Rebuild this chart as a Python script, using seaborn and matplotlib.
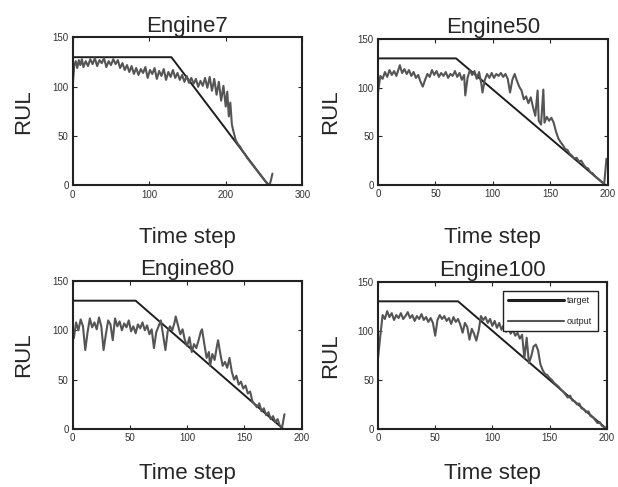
import matplotlib
matplotlib.use("Agg")
import matplotlib.pyplot as plt
import seaborn as sns
import pandas as pd

# ---------------- data ----------------
titles = ["Engine7", "Engine50", "Engine80", "Engine100"]
x_limits = [300, 200, 200, 200]
x_ticks = [[0, 100, 200, 300], [0, 50, 100, 150, 200], [0, 50, 100, 150, 200], [0, 50, 100, 150, 200]]
y_ticks = [0, 50, 100, 150]

# piecewise target RUL (break points)
target7_t = [0, 129, 256]
target7_v = [130, 130, 0]
target50_t = [0, 68, 198]
target50_v = [130, 130, 0]
target80_t = [0, 55, 184]
target80_v = [130, 130, 0]
target100_t = [0, 70, 200]
target100_v = [130, 130, 0]

# network output
out7_t = [0, 2, 4, 6, 8, 10, 12, 14, 17, 20, 23, 26, 29, 32, 35, 38, 41, 44, 47, 50, 53, 56, 59, 62, 65, 68,
          71, 74, 77, 80, 83, 86, 89, 92, 95, 98, 101, 104, 107, 110, 113, 116, 119, 122, 125, 128, 131, 134,
          137, 140, 143, 146, 149, 152, 155, 158, 161, 164, 167, 170, 173, 176, 179, 182, 185, 188, 191, 194,
          197, 200, 202, 204, 206, 208, 210, 213, 216, 219, 222, 225, 228, 231, 234, 237, 240, 243, 246, 249,
          252, 255, 257, 259, 261]
out7_v = [101, 121, 126, 119, 127, 122, 128, 120, 126, 121, 128, 123, 129, 121, 127, 124, 129, 120, 126, 122,
          128, 123, 127, 119, 124, 117, 122, 115, 121, 113, 119, 112, 118, 114, 120, 109, 117, 113, 119, 108,
          116, 111, 118, 107, 115, 110, 117, 109, 114, 107, 112, 105, 111, 104, 109, 103, 108, 100, 106, 101,
          109, 99, 110, 96, 108, 92, 105, 86, 101, 80, 95, 70, 84, 62, 55, 46, 42, 39, 35, 32, 28, 25, 22, 19,
          16, 13, 10, 7, 4, 2, 0, 5, 12]

out50_t = [0, 2, 4, 6, 8, 10, 12, 14, 16, 19, 21, 23, 25, 27, 29, 31, 33, 35, 37, 39, 41, 43, 45, 47, 49, 51,
           53, 55, 57, 59, 61, 63, 65, 67, 69, 71, 73, 75, 76, 78, 80, 82, 84, 86, 88, 90, 91, 93, 95, 97, 99,
           101, 103, 105, 107, 109, 111, 113, 115, 117, 119, 121, 123, 125, 127, 129, 131, 133, 135, 137, 139,
           140, 142, 144, 145, 147, 149, 151, 153, 155, 157, 159, 161, 163, 165, 167, 169, 171, 173, 175, 177,
           179, 181, 183, 185, 187, 189, 191, 193, 195, 197, 199]
out50_v = [95, 112, 109, 116, 111, 118, 113, 117, 112, 123, 115, 119, 114, 118, 112, 116, 110, 113, 106, 101,
           108, 114, 111, 118, 113, 117, 111, 115, 112, 116, 110, 114, 112, 117, 111, 115, 108, 113, 92, 110,
           118, 113, 117, 109, 116, 104, 95, 108, 114, 110, 115, 110, 114, 112, 115, 111, 114, 109, 95, 108,
           114, 107, 101, 97, 88, 91, 84, 90, 80, 71, 97, 66, 62, 98, 64, 70, 66, 69, 64, 55, 48, 44, 41, 37,
           36, 32, 30, 27, 28, 24, 25, 21, 18, 17, 13, 12, 9, 7, 5, 3, 1, 27]

out80_t = [0, 1, 3, 5, 7, 9, 11, 13, 15, 17, 19, 21, 23, 25, 27, 29, 31, 33, 35, 37, 39, 41, 43, 45, 47, 49,
           51, 53, 55, 57, 59, 61, 63, 65, 67, 69, 71, 73, 75, 77, 79, 81, 83, 85, 87, 89, 90, 92, 94, 96, 98,
           100, 102, 104, 106, 108, 110, 112, 113, 115, 117, 119, 120, 122, 124, 126, 127, 129, 131, 133, 135,
           137, 139, 141, 143, 145, 147, 149, 151, 153, 155, 157, 159, 161, 163, 165, 167, 169, 171, 173, 175,
           177, 179, 181, 183, 185]
out80_v = [98, 92, 108, 100, 111, 104, 80, 98, 112, 103, 108, 101, 113, 104, 80, 96, 110, 106, 90, 112, 104,
           109, 100, 107, 103, 110, 99, 104, 97, 106, 102, 108, 100, 105, 96, 101, 82, 98, 104, 110, 95, 80, 99,
           104, 100, 108, 114, 105, 96, 101, 90, 84, 93, 78, 86, 82, 90, 99, 101, 86, 72, 78, 64, 76, 70, 84,
           90, 76, 64, 68, 62, 72, 58, 50, 54, 45, 48, 41, 44, 36, 38, 28, 25, 22, 26, 18, 21, 14, 17, 10, 13,
           7, 10, 3, 2, 15]

out100_t = [0, 2, 4, 6, 8, 10, 12, 14, 16, 18, 20, 22, 24, 26, 28, 30, 32, 34, 36, 38, 40, 42, 44, 46, 48, 50,
            52, 54, 56, 58, 60, 62, 64, 66, 68, 70, 72, 74, 76, 78, 80, 82, 84, 86, 88, 90, 92, 94, 96, 98, 100,
            102, 104, 106, 108, 110, 112, 114, 116, 118, 120, 122, 124, 126, 128, 130, 132, 134, 136, 138, 140,
            142, 144, 146, 148, 150, 152, 154, 156, 158, 160, 162, 164, 166, 168, 170, 172, 174, 176, 178, 180,
            182, 184, 186, 188, 190, 192, 194, 196, 198, 200]
out100_v = [72, 95, 116, 112, 120, 114, 118, 111, 116, 113, 118, 112, 115, 119, 113, 116, 110, 115, 112, 117,
            111, 114, 109, 113, 108, 95, 111, 116, 112, 115, 110, 113, 107, 114, 109, 112, 106, 98, 108, 104, 91,
            102, 97, 90, 100, 115, 111, 114, 108, 112, 105, 110, 103, 108, 101, 106, 99, 104, 97, 101, 95, 98,
            92, 96, 72, 93, 67, 74, 84, 86, 80, 66, 60, 56, 55, 52, 50, 47, 45, 43, 40, 38, 35, 32, 34, 29, 28,
            25, 26, 21, 20, 17, 18, 13, 12, 9, 6, 7, 3, 2, 0]

targets = [(target7_t, target7_v), (target50_t, target50_v), (target80_t, target80_v), (target100_t, target100_v)]
outputs = [(out7_t, out7_v), (out50_t, out50_v), (out80_t, out80_v), (out100_t, out100_v)]

# ---------------- style ----------------
sns.set_style("ticks")
plt.rcParams["font.family"] = ["Liberation Sans", "DejaVu Sans"]

fig = plt.figure(figsize=(6.18, 4.87), dpi=100)
rects = [
    [0.1176, 0.6191, 0.3715, 0.3040],
    [0.6117, 0.6201, 0.3715, 0.3000],
    [0.1176, 0.1191, 0.3705, 0.3040],
    [0.6117, 0.1191, 0.3700, 0.3025],
]
xlabel_pads = [20, 20, 14, 14]
ylabel_pads = [13, 12, 13, 12]

for i in range(4):
    ax = fig.add_axes(rects[i])
    tt, tv = targets[i]
    ot, ov = outputs[i]
    df_t = pd.DataFrame({"t": tt, "RUL": tv})
    df_o = pd.DataFrame({"t": ot, "RUL": ov})
    sns.lineplot(data=df_t, x="t", y="RUL", ax=ax, color="#1e1e1e", linewidth=1.4,
                 estimator=None, sort=False, label="target" if i == 3 else None)
    sns.lineplot(data=df_o, x="t", y="RUL", ax=ax, color="#555555", linewidth=1.5,
                 estimator=None, sort=False, label="output" if i == 3 else None)
    ax.set_xlim(0, x_limits[i])
    ax.set_ylim(0, 150)
    ax.set_xticks(x_ticks[i])
    ax.set_yticks(y_ticks)
    ax.tick_params(direction="in", top=True, right=True, length=3, width=0.8,
                   labelsize=7, labelcolor="#333333", pad=3)
    for s in ax.spines.values():
        s.set_linewidth(1.5)
        s.set_color("#222222")
    ax.set_title(titles[i], fontsize=16, pad=4)
    ax.set_xlabel("Time step", fontsize=16, labelpad=xlabel_pads[i])
    ax.set_ylabel("RUL", fontsize=16, labelpad=ylabel_pads[i])
    if i == 3:
        leg = ax.legend(loc="upper right", fontsize=6.5, frameon=True, fancybox=False,
                        framealpha=1, edgecolor="#222222", handlelength=6.2,
                        borderaxespad=1.0, labelspacing=1.3, handletextpad=0.3,
                        borderpad=0.6)
        leg.get_frame().set_linewidth(1.0)
        leg.get_lines()[0].set_linewidth(2.2)
        leg.get_lines()[1].set_linewidth(1.5)
    else:
        if ax.get_legend() is not None:
            ax.get_legend().remove()

fig.savefig("out.png", dpi=100)
